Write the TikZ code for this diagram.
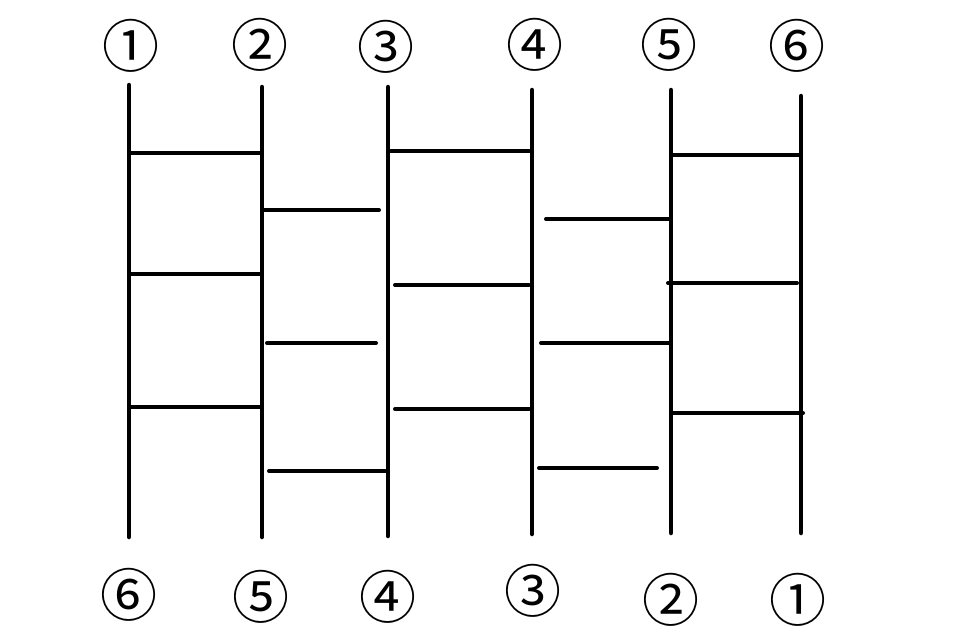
\documentclass[tikz,border=0pt]{standalone}
\usepackage{fontspec}
\newfontfamily\circfont{Noto Sans CJK JP}
\usetikzlibrary{positioning}

\begin{document}
\begin{tikzpicture}[x=1pt,y=-1pt]
    \tikzstyle{rail}=[line width=4.5pt,line cap=round]
    \tikzstyle{rung}=[line width=4pt,line cap=round]
    \tikzstyle{num}=[font=\circfont\fontsize{57}{57}\selectfont,inner sep=0pt]
    \useasboundingbox (0,0) rectangle (960,640);
    % Draw the rails
    \foreach \i/\x/\ya/\yb in {1/129/85/537, 2/262/87/537, 3/388/87/536,
        4/532/90/534, 5/671/90/533, 6/801/96/533} {
        \coordinate (top\i) at (\x,\ya);
        \coordinate (bot\i) at (\x,\yb);
        \draw[rail] (top\i) -- (bot\i);
    }
    % Draw the numbers
    \foreach \i/\c/\x/\y in {1/①/131/46, 2/②/260/45, 3/③/386/47,
        4/④/535/45, 5/⑤/669/45, 6/⑥/797/46}
        \node[num] (start\i) at (\x,\y) {\c};
    \foreach \i/\c/\x/\y in {1/⑥/129/595, 2/⑤/261/597, 3/④/388/597,
        4/③/533/591, 5/②/671/600, 6/①/798/600}
        \node[num] (goal\i) at (\x,\y) {\c};
    % Draw the rungs
    \foreach \xa/\xb/\y in {129/260/153, 129/262/274, 129/262/407,
        262/379/210, 267/376/343, 269/388/471,
        388/532/151, 395/529/285, 395/532/409,
        546/671/219, 541/671/343, 539/657/468,
        671/801/155, 668/797/283, 671/803/413}
        \draw[rung] (\xa,\y) -- (\xb,\y);
\end{tikzpicture}
\end{document}
